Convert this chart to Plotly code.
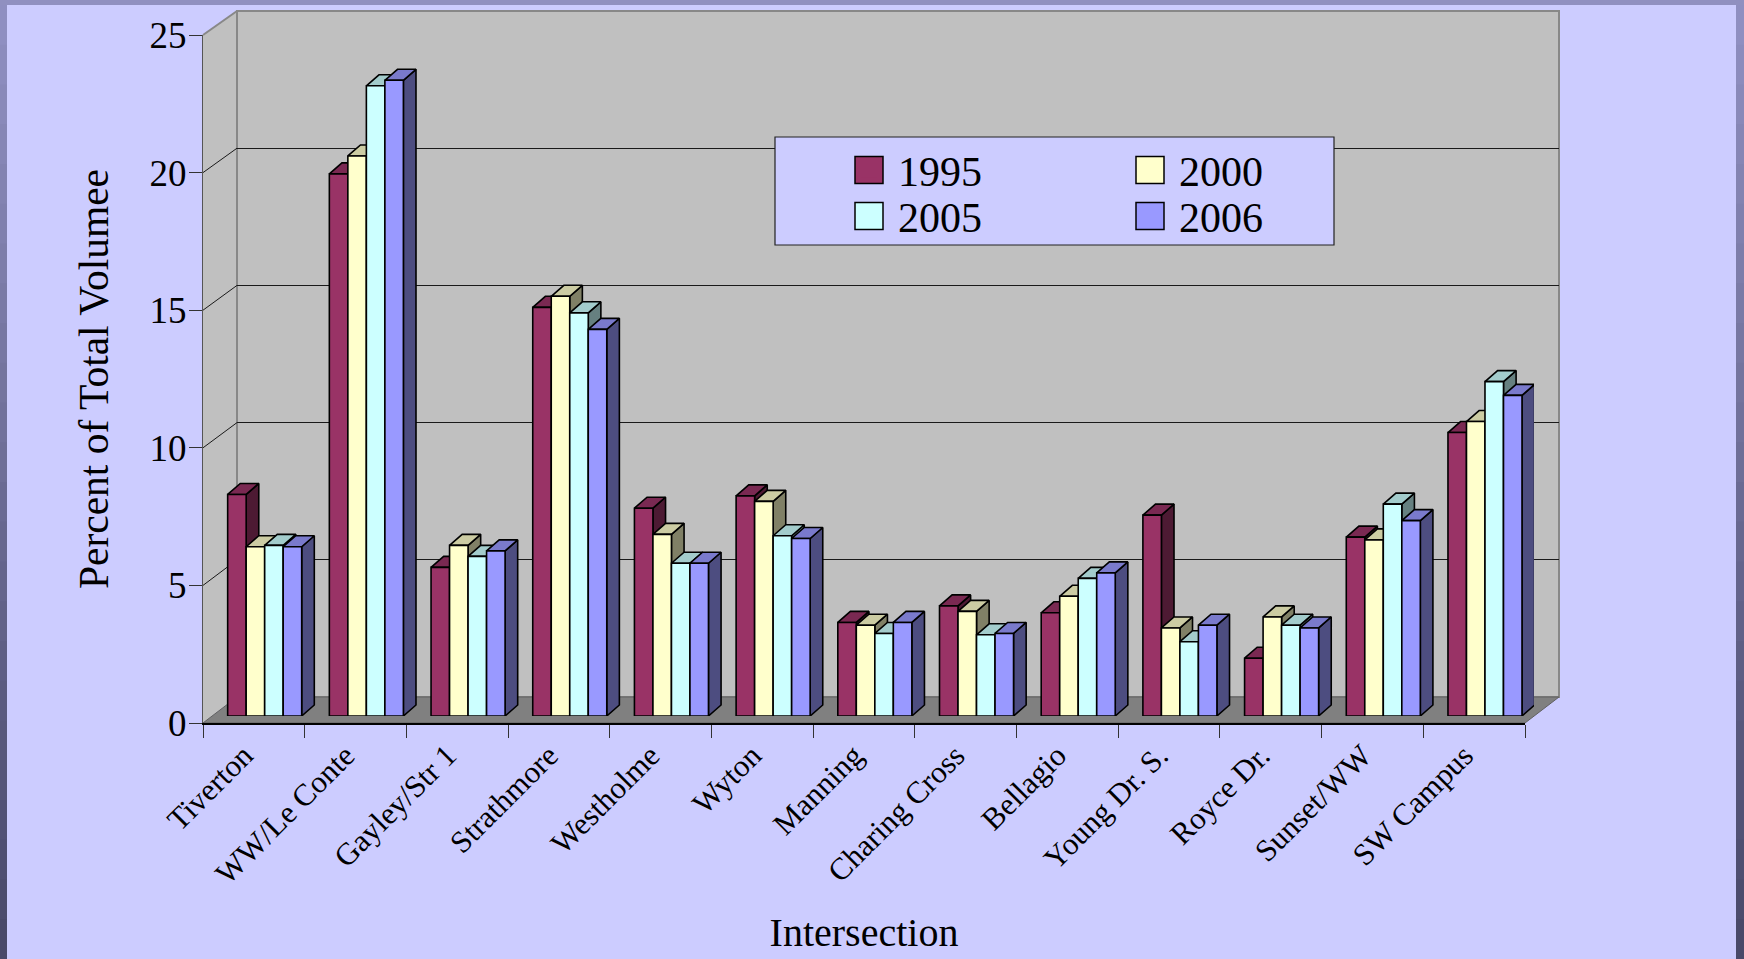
import plotly.graph_objects as go

# ---------------- data ----------------
categories = ["Tiverton", "WW/Le Conte", "Gayley/Str 1", "Strathmore", "Westholme",
              "Wyton", "Manning", "Charing Cross", "Bellagio", "Young Dr. S.",
              "Royce Dr.", "Sunset/WW", "SW Campus"]
years = ["1995", "2000", "2005", "2006"]
v1995 = [8.05, 19.7, 5.4, 14.85, 7.55, 8.0, 3.4, 4.0, 3.75, 7.3, 2.1, 6.5, 10.3]
v2000 = [6.15, 20.35, 6.2, 15.25, 6.6, 7.8, 3.3, 3.8, 4.35, 3.2, 3.6, 6.4, 10.7]
v2005 = [6.2, 22.9, 5.8, 14.65, 5.55, 6.55, 3.0, 2.95, 5.0, 2.7, 3.3, 7.7, 12.15]
v2006 = [6.15, 23.1, 6.0, 14.05, 5.55, 6.45, 3.4, 3.0, 5.2, 3.3, 3.2, 7.1, 11.65]
y_ticks = [0, 5, 10, 15, 20, 25]
series = [v1995, v2000, v2005, v2006]

# ---------------- styles ----------------
FONT = "Liberation Serif"
front_colors = ["#993366", "#ffffcc", "#ccffff", "#9999ff"]
top_colors = ["#7a2952", "#cccca3", "#a3cccc", "#7a7acc"]
side_colors = ["#4d1a33", "#808066", "#668080", "#4d4d80"]
EDGE = "black"
EDGE_W = 1.6

W, H = 1744, 959
FX0, FX1, FY0, FY25 = 203, 1525, 723, 35      # front axis plane
BX0, BX1, BY0, BY25 = 237, 1559, 697, 11      # back wall
RX0, RX1, RY0 = 212, 1534, 716                # bar plane
RY25 = RY0 - (FY0 - FY25)
BAR_W = 0.182
GROUP_START = 0.154
DX, DY = 0.124, 0.40


def px(x):
    return x / W


def py(y):
    return 1 - y / H


fig = go.Figure()

# back-wall subplot (gridlines only)
fig.add_trace(go.Scatter(x=[None], y=[None], xaxis="x", yaxis="y", showlegend=False,
                         hoverinfo="skip"))
# front axis subplot (ticks / labels)
fig.add_trace(go.Scatter(x=categories, y=[0] * len(categories), xaxis="x2", yaxis="y2",
                         mode="markers", marker=dict(opacity=0), showlegend=False,
                         hoverinfo="skip"))

# 3D side and top faces
n = len(categories)
for k, vals in enumerate(series):
    sx, sy, tx, ty = [], [], [], []
    for i, v in enumerate(vals):
        x0 = i - 0.5 + GROUP_START + BAR_W * k
        x1 = x0 + BAR_W
        sx += [x1, x1, x1 + DX, x1 + DX, x1, None]
        sy += [0, v, v + DY, DY, 0, None]
        tx += [x0, x1, x1 + DX, x0 + DX, x0, None]
        ty += [v, v, v + DY, v + DY, v, None]
    fig.add_trace(go.Scatter(x=sx, y=sy, xaxis="x3", yaxis="y3", mode="lines",
                             fill="toself", fillcolor=side_colors[k],
                             line=dict(color=EDGE, width=EDGE_W), showlegend=False,
                             hoverinfo="skip"))
    fig.add_trace(go.Scatter(x=tx, y=ty, xaxis="x3", yaxis="y3", mode="lines",
                             fill="toself", fillcolor=top_colors[k],
                             line=dict(color=EDGE, width=EDGE_W), showlegend=False,
                             hoverinfo="skip"))

# front faces (bars)
for k, vals in enumerate(series):
    xs = [i - 0.5 + GROUP_START + BAR_W * (k + 0.5) for i in range(n)]
    fig.add_trace(go.Bar(x=xs, y=vals, width=BAR_W, xaxis="x4", yaxis="y4",
                         name=years[k], marker=dict(color=front_colors[k],
                                                    line=dict(color=EDGE, width=EDGE_W)),
                         customdata=categories,
                         hovertemplate="%{customdata}<br>" + years[k] + ": %{y}<extra></extra>",
                         showlegend=False))

# legend entries (one legend per entry to get the 2x2 layout)
legend_pos = [(840, 170), (1121, 170), (840, 216), (1121, 216)]
legend_names = ["legend", "legend2", "legend3", "legend4"]
for k in range(4):
    fig.add_trace(go.Scatter(x=[None], y=[None], xaxis="x2", yaxis="y2", mode="markers",
                             name=years[k], legend=legend_names[k],
                             marker=dict(symbol="square", size=16, color=front_colors[k],
                                         line=dict(color=front_colors[k], width=0))))

# ---------------- shapes ----------------
shapes = []
# outer frame
TOPB, LEFTB, RIGHTB = 5, 7, 8
shapes.append(dict(type="rect", xref="paper", yref="paper", x0=0, x1=1, y0=py(TOPB), y1=1,
                   fillcolor="#9090c0", line=dict(width=0), layer="below"))
NB = 24
c_top, c_bot = (145, 145, 195), (72, 72, 104)
for b in range(NB):
    t = (b + 0.5) / NB
    col = "rgb(%d,%d,%d)" % tuple(int(c_top[j] + (c_bot[j] - c_top[j]) * t) for j in range(3))
    ya, yb = TOPB + (H - TOPB) * b / NB, TOPB + (H - TOPB) * (b + 1) / NB + 1
    for xa, xb in [(0, LEFTB), (W - RIGHTB, W)]:
        shapes.append(dict(type="rect", xref="paper", yref="paper", x0=px(xa), x1=px(xb),
                           y0=py(min(yb, H)), y1=py(ya), fillcolor=col, line=dict(width=0),
                           layer="below"))

# left side wall
shapes.append(dict(type="path", xref="paper", yref="paper", layer="below",
                   path="M%f,%f L%f,%f L%f,%f L%f,%f Z" % (px(FX0), py(FY25), px(BX0), py(BY25),
                                                         px(BX0), py(BY0), px(FX0), py(FY0)),
                   fillcolor="#c0c0c0", line=dict(width=0)))
# back wall
shapes.append(dict(type="rect", xref="paper", yref="paper", layer="below",
                   x0=px(BX0), x1=px(BX1), y0=py(BY0), y1=py(BY25),
                   fillcolor="#c0c0c0", line=dict(color="#888888", width=2)))
# floor
shapes.append(dict(type="path", xref="paper", yref="paper", layer="below",
                   path="M%f,%f L%f,%f L%f,%f L%f,%f Z" % (px(FX0), py(FY0), px(BX0), py(BY0),
                                                         px(BX1), py(BY0), px(FX1), py(FY0)),
                   fillcolor="#808080", line=dict(color="#606060", width=1)))
# left wall gridline diagonals
for v in y_ticks[1:]:
    yf = FY0 - (FY0 - FY25) * v / 25
    yb = BY0 - (BY0 - BY25) * v / 25
    shapes.append(dict(type="line", xref="paper", yref="paper", layer="below",
                       x0=px(FX0), x1=px(BX0), y0=py(yf), y1=py(yb),
                       line=dict(color="#888888" if v == 25 else "#1a1a1a",
                                 width=2 if v == 25 else 1)))
# legend box
shapes.append(dict(type="rect", xref="paper", yref="paper", layer="above",
                   x0=px(775), x1=px(1334), y0=py(245), y1=py(137),
                   fillcolor="#ccccff", line=dict(color="#222222", width=1.2)))
# legend swatches (larger than plotly's capped legend symbol)
sw_pos = [(869, 170), (1150, 170), (869, 216), (1150, 216)]
for k in range(4):
    cx, cy = sw_pos[k]
    shapes.append(dict(type="rect", xref="paper", yref="paper", layer="above",
                       x0=px(cx - 14), x1=px(cx + 14), y0=py(cy + 13.5), y1=py(cy - 13.5),
                       fillcolor=front_colors[k], line=dict(color="black", width=1.5)))

layout = dict(
    width=W, height=H,
    margin=dict(l=0, r=0, t=0, b=0),
    paper_bgcolor="#ccccff",
    plot_bgcolor="rgba(0,0,0,0)",
    font=dict(family=FONT, color="black"),
    barmode="overlay",
    showlegend=True,
    shapes=shapes,
    hovermode="closest",
    xaxis=dict(domain=[px(BX0), px(BX1)], range=[0, 1], visible=False, anchor="y",
               fixedrange=True),
    yaxis=dict(domain=[py(BY0), py(BY25)], range=[0, 25], anchor="x", showticklabels=False,
               ticks="", showline=False, zeroline=False, showgrid=True,
               tickvals=y_ticks[1:-1], gridcolor="#1a1a1a", gridwidth=1, fixedrange=True),
    xaxis2=dict(domain=[px(FX0), px(FX1)], anchor="y2", type="category",
                categoryorder="array", categoryarray=categories, range=[-0.5, n - 0.5],
                tickson="boundaries", ticks="outside", ticklen=13, tickcolor="#333333",
                tickwidth=1, showline=True, linecolor="black", linewidth=2,
                tickangle=-45, tickfont=dict(family=FONT, size=31), showgrid=False,
                ticklabelshift=-10,
                zeroline=False, automargin=False, fixedrange=True,
                title=dict(text="Intersection", font=dict(family=FONT, size=40), standoff=28)),
    yaxis2=dict(domain=[py(FY0), py(FY25)], anchor="x2", range=[0, 25], tickvals=y_ticks,
                ticks="outside", ticklen=13, tickcolor="#333333", tickwidth=1,
                showline=True, linecolor="#555555", linewidth=1, showgrid=False,
                zeroline=False, tickfont=dict(family=FONT, size=37), automargin=False,
                ticklabelstandoff=-5,
                fixedrange=True,
                title=dict(text="Percent of Total Volumee", font=dict(family=FONT, size=41.5),
                           standoff=28)),
    xaxis3=dict(domain=[px(RX0), px(RX1)], range=[-0.5, n - 0.5], visible=False,
                anchor="y3", fixedrange=True),
    yaxis3=dict(domain=[py(RY0), py(RY25)], range=[0, 25], visible=False, anchor="x3",
                fixedrange=True),
    xaxis4=dict(domain=[px(RX0), px(RX1)], range=[-0.5, n - 0.5], visible=False,
                anchor="y4", fixedrange=True),
    yaxis4=dict(domain=[py(RY0), py(RY25)], range=[0, 25], visible=False, anchor="x4",
                fixedrange=True),
)
for k, lname in enumerate(legend_names):
    lx, ly = legend_pos[k]
    layout[lname] = dict(x=px(lx), y=py(ly), xanchor="left", yanchor="middle",
                         bgcolor="rgba(0,0,0,0)", borderwidth=0, itemwidth=48,
                         font=dict(family=FONT, size=42, color="black"))

fig.update_layout(**layout)
fig.write_html("out.html", config={"displayModeBar": False},
               post_script="document.body.style.margin='0px';document.body.style.overflow='hidden';")
